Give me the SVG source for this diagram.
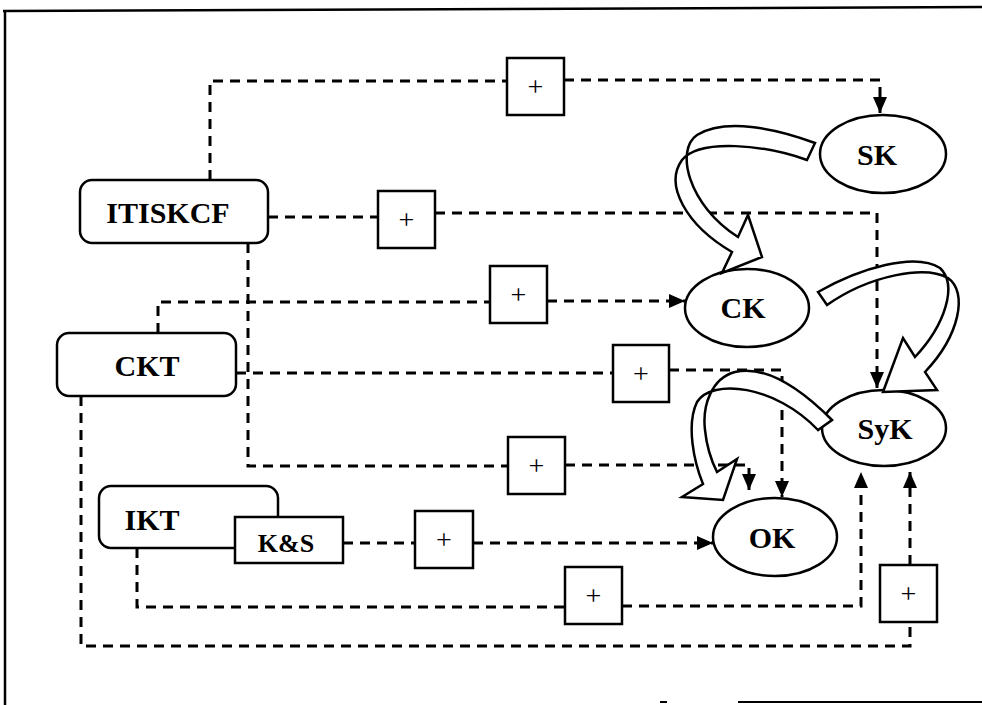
<svg xmlns="http://www.w3.org/2000/svg" width="982" height="705" viewBox="0 0 982 705">
<style>
.frame{fill:none;stroke:#000;stroke-width:2.5}
.node{fill:#fff;stroke:#000;stroke-width:2.5}
.lbl{font-family:"Liberation Serif","Times New Roman",serif;font-weight:bold;font-size:30px;fill:#000;text-anchor:middle}
.plus{font-family:"Liberation Serif","Times New Roman",serif;font-size:28px;fill:#000;text-anchor:middle}
.dash{fill:none;stroke:#000;stroke-width:3;stroke-dasharray:10 7}
.big{fill:#fff;stroke:#000;stroke-width:2.5;stroke-linejoin:miter}
</style>
<defs>
<marker id="ah" viewBox="0 0 16 14" refX="16" refY="7" markerWidth="16" markerHeight="14" markerUnits="userSpaceOnUse" orient="auto">
<path d="M0,0 L16,7 L0,14 Z" fill="#000"/>
</marker>
</defs>
<rect width="982" height="705" fill="#fff"/>
<g id="frame">
<path class="frame" d="M3,11 L982,7"/>
<path class="frame" d="M5,11 L5,705"/>
<path class="frame" d="M738,702 L982,702" style="stroke-width:2"/>
<path class="frame" d="M660,702 L667,702" style="stroke-width:2"/>
</g>
<g id="connectors">
<path class="dash" d="M210,180 V81 H507"/>
<path class="dash" d="M564,80 H880 V113" marker-end="url(#ah)"/>
<path class="dash" d="M268,217 H378"/>
<path class="dash" d="M435,213 H877 V388" marker-end="url(#ah)"/>
<path class="dash" d="M158,333 V302 H490"/>
<path class="dash" d="M547,301 H685" marker-end="url(#ah)"/>
<path class="dash" d="M236,373 H613"/>
<path class="dash" d="M669,370 H782 V497" marker-end="url(#ah)"/>
<path class="dash" d="M248,243 V466 H508"/>
<path class="dash" d="M565,465 H749 V490" marker-end="url(#ah)"/>
<path class="dash" d="M343,543 H415"/>
<path class="dash" d="M473,543 H713" marker-end="url(#ah)"/>
<path class="dash" d="M137,548 V607 H565"/>
<path class="dash" d="M622,606 H861 V472" marker-end="url(#ah)"/>
<path class="dash" d="M81,396 V646 H910 V622"/>
<path class="dash" d="M910,565 V472" marker-end="url(#ah)"/>
</g>
<g id="ITISKCF">
<rect class="node" x="80" y="180" width="188" height="63" rx="12"/>
<text class="lbl" x="168" y="223">ITISKCF</text>
</g>
<g id="CKT">
<rect class="node" x="57" y="333" width="179" height="63" rx="12"/>
<text class="lbl" x="147" y="376">CKT</text>
</g>
<g id="IKT">
<rect class="node" x="99" y="486" width="179" height="62" rx="12"/>
<text class="lbl" x="152" y="530">IKT</text>
</g>
<g id="KS">
<rect class="node" x="235" y="517" width="108" height="46"/>
<text class="lbl" x="286" y="552" style="font-size:26px">K&amp;S</text>
</g>
<g id="SK">
<ellipse class="node" cx="883" cy="154" rx="63" ry="39"/>
<text class="lbl" x="877" y="165">SK</text>
</g>
<g id="CK">
<ellipse class="node" cx="747" cy="308" rx="62" ry="39"/>
<text class="lbl" x="743" y="318">CK</text>
</g>
<g id="SyK">
<ellipse class="node" cx="884" cy="428" rx="62" ry="38"/>
<text class="lbl" x="885" y="439">SyK</text>
</g>
<g id="OK">
<ellipse class="node" cx="775" cy="537" rx="62" ry="39"/>
<text class="lbl" x="772" y="548">OK</text>
</g>
<g id="plus1"><rect class="node" x="507" y="58" width="57" height="57"/><text class="plus" x="535.5" y="96">+</text></g>
<g id="plus2"><rect class="node" x="378" y="191" width="57" height="57"/><text class="plus" x="406.5" y="229">+</text></g>
<g id="plus3"><rect class="node" x="490" y="266" width="57" height="57"/><text class="plus" x="518.5" y="304">+</text></g>
<g id="plus4"><rect class="node" x="613" y="345" width="56" height="57"/><text class="plus" x="641" y="383">+</text></g>
<g id="plus5"><rect class="node" x="508" y="437" width="57" height="57"/><text class="plus" x="536.5" y="475">+</text></g>
<g id="plus6"><rect class="node" x="415" y="511" width="58" height="57"/><text class="plus" x="444" y="549">+</text></g>
<g id="plus7"><rect class="node" x="565" y="567" width="57" height="57"/><text class="plus" x="593.5" y="605">+</text></g>
<g id="plus8"><rect class="node" x="880" y="565" width="57" height="57"/><text class="plus" x="908.5" y="603">+</text></g>
<g id="curved-arrows">
<path class="big" d="M815,143 C775,128 725,118 697,135 C675,150 688,205 738,237 L748,215 L762,257 L722,273 L732,252 C686,225 664,185 682,160 C700,138 765,145 807,160 Z"/>
<path class="big" d="M818,292 C860,268 915,252 940,268 C958,285 945,325 915,357 L903,338 L883,392 L937,390 L925,372 C960,335 968,292 948,278 C925,265 870,275 827,305 Z"/>
<path class="big" d="M832,420 C800,388 765,365 735,372 C712,378 702,405 705,430 C707,450 712,462 717,472 L737,459 L723,500 L682,497 L703,484 C694,462 686,425 697,402 C712,378 775,385 818,430 Z"/>
</g>
</svg>
